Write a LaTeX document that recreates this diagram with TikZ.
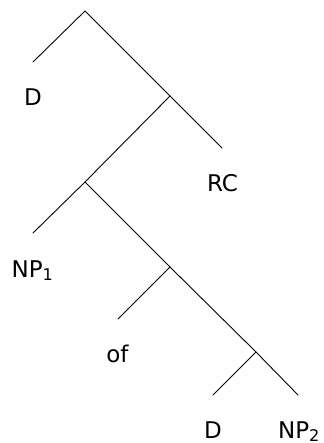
\documentclass[tikz,border=0pt]{standalone}
\usepackage{fontspec}
\setmainfont{DejaVu Sans}
\begin{document}
\begin{tikzpicture}[x=1pt,y=-1pt,
  edge/.style={line width=0.9pt, line cap=round},
  lab/.style={anchor=base, inner sep=0pt, font=\fontsize{23}{27}\selectfont}]
\useasboundingbox (0,0) rectangle (323,443);
\coordinate (root) at (85,11);
\coordinate (dl) at (33,62);
\coordinate (a) at (170,96);
\coordinate (rcl) at (222,148);
\coordinate (b) at (85,182);
\coordinate (npl) at (33,233);
\coordinate (c) at (170,267);
\coordinate (ofl) at (118,319);
\coordinate (e) at (256,352);
\coordinate (d2l) at (213,395);
\coordinate (np2l) at (298,395);
\draw[edge] (dl) -- (root) -- (a) -- (rcl);
\draw[edge] (a) -- (b) -- (npl);
\draw[edge] (b) -- (c) -- (e) -- (np2l);
\draw[edge] (c) -- (ofl);
\draw[edge] (e) -- (d2l);
\node[lab] (D1) at (33,106) {D};
\node[lab] (RC) at (222.5,192) {RC};
\node[lab] (NP1) at (32.5,277) {NP\textsubscript{1}};
\node[lab] (of) at (117.5,362) {of};
\node[lab] (D2) at (213,438) {D};
\node[lab] (NP2) at (299,438) {NP\textsubscript{2}};
\end{tikzpicture}
\end{document}
